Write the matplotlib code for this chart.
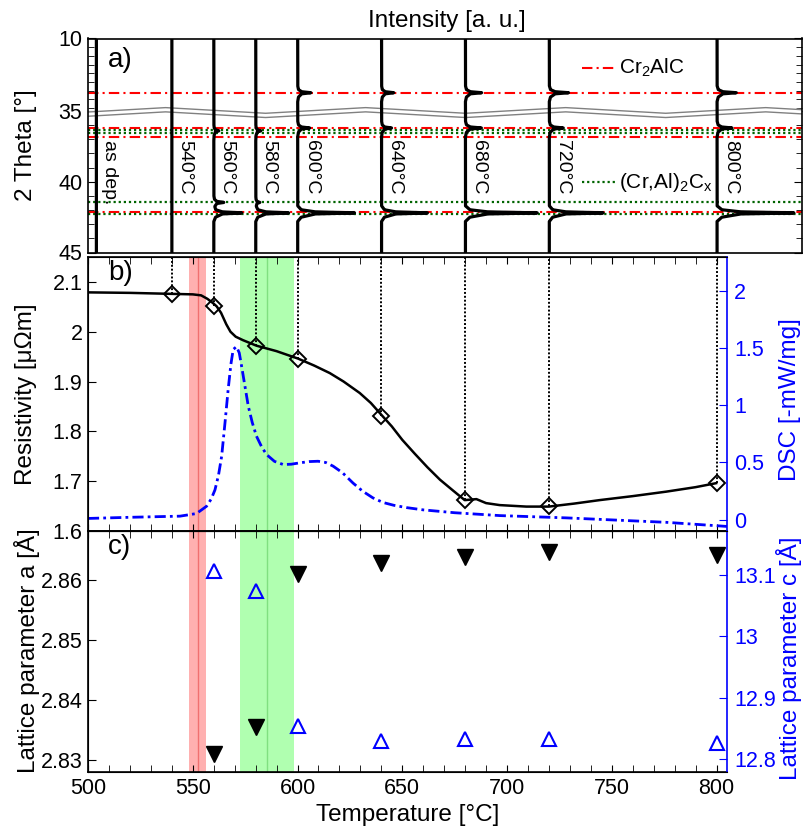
import numpy as np
import matplotlib.pyplot as plt

plt.rcParams['font.family'] = ['Liberation Sans', 'DejaVu Sans']
plt.rcParams['mathtext.default'] = 'regular'

# ---------------- data ----------------
# a) XRD traces: annealing temperature (x position), label, peak heights
xrd_T = [504, 540, 560, 580, 600, 640, 680, 720, 800]
xrd_labels = ['as dep.', '540°C', '560°C', '580°C', '600°C',
              '640°C', '680°C', '720°C', '800°C']
peak_pos = [28.7, 36.2, 36.4, 41.46, 42.2]
peak_height = [
    [0, 0, 0, 0, 0],
    [0, 0, 0, 0, 0],
    [0, 0, 2.5, 5, 14],
    [0, 0, 2.5, 2, 16.5],
    [6.5, 6, 0, 0, 28.5],
    [6, 5, 0, 0, 23],
    [8, 8, 0, 0, 36],
    [9.5, 7, 0, 0, 27],
    [9.5, 7.5, 0, 0, 38.5],
]
cr2alc_lines = [28.7, 36.2, 36.86, 42.17]
cralc_lines = [36.35, 36.55, 41.46, 42.29]

# b) resistivity and DSC
res_T = [500, 520, 540, 550, 554, 557, 559.5, 561.4, 563.5, 566, 568, 570.5,
         574, 580.4, 590, 600.3, 608, 615.4, 622, 629.7, 635, 640.5, 645,
         650, 656, 662, 668, 674, 679.8, 685.4, 690, 696.5, 709.2, 720,
         732, 744.2, 760, 776, 790, 799.8]
res_v = [2.079, 2.078, 2.076, 2.075, 2.073, 2.066, 2.058, 2.051, 2.038,
         2.015, 2.0, 1.99, 1.983, 1.972, 1.961, 1.946, 1.932, 1.917, 1.9,
         1.877, 1.857, 1.831, 1.81, 1.783, 1.755, 1.728, 1.703, 1.682,
         1.662, 1.664, 1.656, 1.652, 1.649, 1.649, 1.655, 1.662, 1.67,
         1.679, 1.688, 1.696]
meas_T = [540, 560, 580, 600, 640, 680, 720, 800]
meas_res = [2.075, 2.052, 1.972, 1.946, 1.831, 1.663, 1.651, 1.696]

dsc_T = [500, 520, 543.9, 551.8, 556.6, 558.8, 560.6, 562.3, 563.8, 565.4,
         566.9, 568.2, 569.3, 570.9, 572.2, 573.3, 574.9, 576.5, 578.4,
         580.4, 582.8, 585.2, 589, 593.2, 597, 601.1, 605.5, 609.8, 613.5,
         617, 621.5, 626.5, 631, 636, 640.8, 646, 652, 660, 675, 696.5,
         728.3, 776, 805]
dsc_v = [0.01, 0.02, 0.03, 0.053, 0.117, 0.18, 0.26, 0.39, 0.555, 0.85,
         1.14, 1.36, 1.49, 1.515, 1.46, 1.345, 1.17, 0.994, 0.85, 0.731,
         0.64, 0.57, 0.51, 0.482, 0.485, 0.497, 0.508, 0.511, 0.5, 0.468,
         0.41, 0.32, 0.25, 0.19, 0.15, 0.125, 0.105, 0.085, 0.06, 0.035,
         0.015, -0.024, -0.06]

# c) lattice parameters
lat_T = [560, 580, 600, 640, 680, 720, 800]
lat_a = [2.831, 2.8355, 2.861, 2.8628, 2.8638, 2.8647, 2.8642]
lat_c = [13.107, 13.074, 12.854, 12.829, 12.832, 12.833, 12.826]

# shaded temperature ranges
band_lo = [548.2, 572.5]
band_hi = [556.3, 598.3]
band_mid = [552.4, 585.4]
band_fc = ['#ffb0b0', '#b0ffb0']
band_lc = ['#f07070', '#80e080']


def tt2u(tt):
    # broken 2theta axis: 10-35 compressed
    tt = np.asarray(tt, float)
    return np.where(tt >= 35, tt, 35 - (35 - tt) * 0.205)


W, H = 806, 832
fig = plt.figure(figsize=(W / 100, H / 100), dpi=100)


def px_axes(l, t, r, b):
    return fig.add_axes([l / W, 1 - b / H, (r - l) / W, (b - t) / H])


axA = px_axes(88, 38.5, 802, 252.5)
axB = px_axes(88, 257, 727, 531)
axC = px_axes(88, 531, 727, 772)

TS = 15.5
LS = 17.5
blue = '#0000ff'

for ax in (axA, axB, axC):
    for s in ax.spines.values():
        s.set_linewidth(1.2)

# ---------------- a) ----------------
u_top = float(tt2u(10))
axA.set_xlim(500, 840.5)
axA.set_ylim(45, u_top)

for tt in cr2alc_lines:
    axA.axhline(float(tt2u(tt)), color='red', ls=(0, (5, 2, 1, 2)), lw=1.5, zorder=1)
for tt in cralc_lines:
    axA.axhline(float(tt2u(tt)), color='#006400', ls=(0, (1, 1.3)), lw=1.6, zorder=1)

# break marker
k = np.arange(-1, 9)
bx = 537 + 47.7 * k
by = 34.96 + 0.2 * np.where(k % 2 == 0, -1, 1)
axA.fill_between(bx, by, by + 0.3, color='white', zorder=2)
axA.plot(bx, by, color='gray', lw=1, zorder=2)
axA.plot(bx, by + 0.3, color='gray', lw=1, zorder=2)

offs = [-0.5, -0.22, -0.07, 0, 0.07, 0.3, 0.6]
fracs = [0, 0.06, 0.3, 1, 0.3, 0.06, 0]
ugrid = np.arange(u_top, 45.001, 0.01)
for T, hs, lab in zip(xrd_T, peak_height, xrd_labels):
    inten = np.zeros_like(ugrid)
    for p, h in zip(peak_pos, hs):
        inten += h * np.interp(ugrid - float(tt2u(p)), offs, fracs)
    axA.plot(T + inten, ugrid, color='black', lw=2.3, zorder=4)
    axA.text(T + 2.3, 37.05, lab, rotation=270, ha='left', va='top',
             fontsize=14, zorder=5)

axA.set_xticks([])
axA.set_yticks([u_top, 35, 40, 45])
axA.set_yticklabels(['10', '35', '40', '45'])
minor_u = [float(tt2u(v)) for v in range(13, 35, 3)] + [36, 37, 38, 39, 41, 42, 43, 44]
axA.set_yticks(minor_u, minor=True)
axA.tick_params(axis='y', which='both', direction='in', right=True,
                labelsize=TS, pad=4)
axA.tick_params(axis='y', which='major', length=6)
axA.tick_params(axis='y', which='minor', length=4)

axA.plot([0.692, 0.738], [0.861, 0.861], transform=axA.transAxes,
         color='red', ls=(0, (5, 2, 1, 2)), lw=1.5)
axA.text(0.744, 0.861, 'Cr$_2$AlC', transform=axA.transAxes,
         va='center', ha='left', fontsize=15)
axA.plot([0.692, 0.738], [0.329, 0.329], transform=axA.transAxes,
         color='#006400', ls=(0, (1, 1.3)), lw=1.6)
axA.text(0.744, 0.329, '(Cr,Al)$_2$C$_x$', transform=axA.transAxes,
         va='center', ha='left', fontsize=15)
axA.text(0.028, 0.90, 'a)', transform=axA.transAxes, va='center',
         ha='left', fontsize=20)

# ---------------- b) and c) shared pieces ----------------
for ax in (axB, axC):
    ax.set_xlim(500, 805)
    for lo, hi, mid, fc, lc in zip(band_lo, band_hi, band_mid, band_fc, band_lc):
        ax.axvspan(lo, hi, color=fc, lw=0, zorder=0)
        ax.axvline(mid, color=lc, lw=1, zorder=0.5)
    ax.set_xticks(np.arange(500, 801, 50))
    ax.set_xticks(np.arange(500, 806, 10), minor=True)
    ax.tick_params(axis='x', which='both', direction='in', top=True,
                   length=5, labelsize=TS, pad=4)
    ax.spines['right'].set_visible(False)

# ---------------- b) ----------------
axB.set_ylim(1.6, 2.15)
axB.vlines(meas_T, meas_res, 2.15, colors='black', linestyles=(0, (1, 1)),
           lw=1.4, zorder=2)
axB.plot(res_T, res_v, color='black', lw=1.8, zorder=3)
axB.plot(meas_T, meas_res, 'D', mfc='none', mec='black', ms=8, mew=1.4, zorder=4)
axB.set_yticks([1.6, 1.7, 1.8, 1.9, 2.0, 2.1])
axB.set_yticklabels(['1.6', '1.7', '1.8', '1.9', '2', '2.1'])
axB.tick_params(axis='y', direction='in', length=6, labelsize=TS, pad=4)
axB.tick_params(axis='x', labelbottom=False)
axB.text(0.031, 0.94, 'b)', transform=axB.transAxes, va='center',
         ha='left', fontsize=20)

axB2 = axB.twinx()
axB2.set_ylim(-0.1, 2.3)
axB2.plot(dsc_T, dsc_v, color=blue, ls=(0, (4, 1.5, 1, 1.5)), lw=2)
axB2.set_yticks([0, 0.5, 1, 1.5, 2])
axB2.set_yticklabels(['0', '0.5', '1', '1.5', '2'])
axB2.tick_params(axis='y', direction='in', length=6, colors=blue,
                 labelsize=TS, pad=5)
axB2.spines['right'].set_color(blue)
axB2.spines['right'].set_linewidth(1.2)

# ---------------- c) ----------------
axC.set_ylim(2.828, 2.8682)
axC.plot(lat_T, lat_a, 'v', color='black', ms=11, zorder=3)
axC.set_yticks([2.83, 2.84, 2.85, 2.86])
axC.set_yticklabels(['2.83', '2.84', '2.85', '2.86'])
axC.tick_params(axis='y', direction='in', length=6, labelsize=TS, pad=4)
axC.text(0.031, 0.934, 'c)', transform=axC.transAxes, va='center',
         ha='left', fontsize=20)

axC2 = axC.twinx()
axC2.set_ylim(12.779, 13.172)
axC2.plot(lat_T, lat_c, '^', mfc='none', mec=blue, ms=10, mew=1.5)
axC2.set_yticks([12.8, 12.9, 13.0, 13.1])
axC2.set_yticklabels(['12.8', '12.9', '13', '13.1'])
axC2.tick_params(axis='y', direction='in', length=6, colors=blue,
                 labelsize=TS, pad=5)
axC2.spines['right'].set_color(blue)
axC2.spines['right'].set_linewidth(1.2)

# ---------------- axis labels ----------------
fig.text(447 / W, 1 - 21 / H, 'Intensity [a. u.]', ha='center', va='center', fontsize=LS)
fig.text(26 / W, 1 - 145.5 / H, '2 Theta [°]', rotation=90, ha='center', va='center', fontsize=LS)
fig.text(26 / W, 1 - 394 / H, 'Resistivity [μΩm]', rotation=90, ha='center', va='center', fontsize=LS)
fig.text(27 / W, 1 - 651 / H, 'Lattice parameter a [Å]', rotation=90, ha='center', va='center', fontsize=LS)
fig.text(790 / W, 1 - 400 / H, 'DSC [-mW/mg]', rotation=90, ha='center', va='center', fontsize=LS, color=blue)
fig.text(789 / W, 1 - 658 / H, 'Lattice parameter c [Å]', rotation=90, ha='center', va='center', fontsize=LS, color=blue)
fig.text(408 / W, 1 - 815 / H, 'Temperature [°C]', ha='center', va='center', fontsize=LS)

fig.savefig('out.png', dpi=100)
